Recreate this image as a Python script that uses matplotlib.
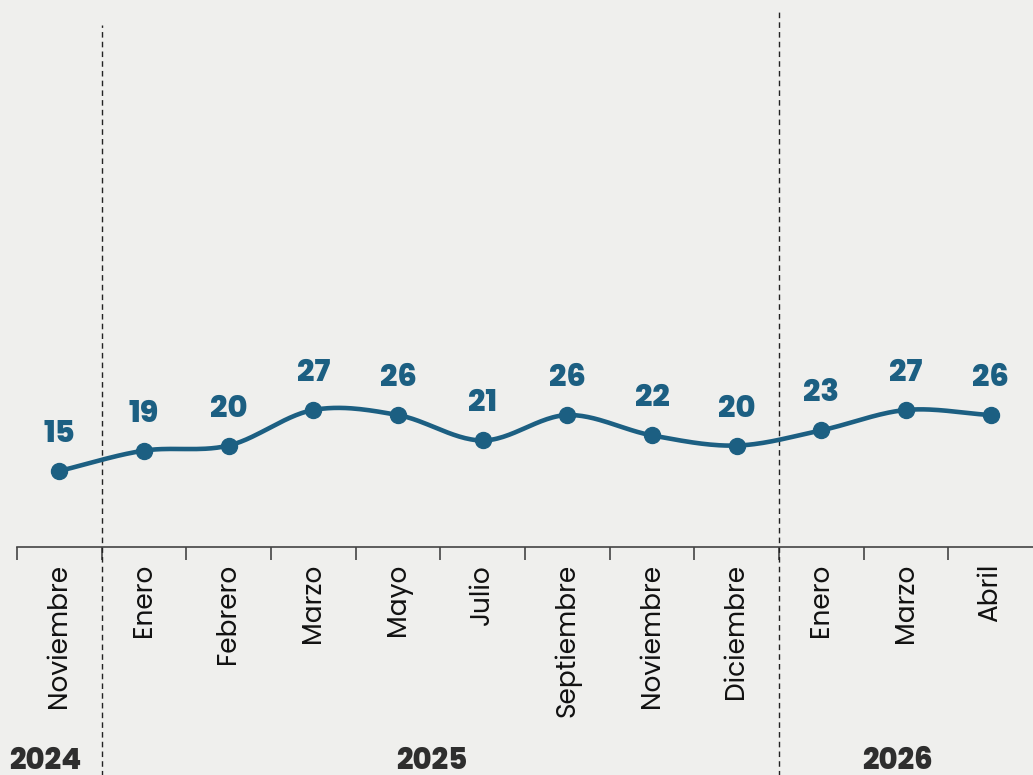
import numpy as np
import matplotlib
matplotlib.use("Agg")
import matplotlib.pyplot as plt
import matplotlib.transforms as mtransforms

months = ['Noviembre', 'Enero', 'Febrero', 'Marzo', 'Mayo', 'Julio',
          'Septiembre', 'Noviembre', 'Diciembre', 'Enero', 'Marzo', 'Abril']
values = [15, 19, 20, 27, 26, 21, 26, 22, 20, 23, 27, 26]
years = ['2024', '2025', '2026']

bg = '#efefed'
blue = '#1c5f82'
dark = '#2e2e2e'

plt.rcParams['font.family'] = ['Poppins', 'Open Sans', 'DejaVu Sans']

fig = plt.figure(figsize=(10.33, 7.75), dpi=100, facecolor=bg)
ax = fig.add_axes([0.0165, 0.294, 0.9835, 0.706])
ax.set_facecolor(bg)

x = np.arange(len(values))
y = np.array(values, dtype=float)

# smooth curve (catmull-rom) through the points
px = np.concatenate([[x[0] - 1], x, [x[-1] + 1]])
py = np.concatenate([[2 * y[0] - y[1]], y, [2 * y[-1] - y[-2]]])
cx, cy = [], []
t = np.linspace(0, 1, 30)
for i in range(1, len(px) - 2):
    p0, p1, p2, p3 = py[i - 1], py[i], py[i + 1], py[i + 2]
    seg = 0.5 * ((2 * p1) + (-p0 + p2) * t + (2 * p0 - 5 * p1 + 4 * p2 - p3) * t ** 2
                 + (-p0 + 3 * p1 - 3 * p2 + p3) * t ** 3)
    cx.extend(px[i] + t)
    cy.extend(seg)
ax.plot(cx, cy, color=blue, lw=3.3, solid_capstyle='round', zorder=3)
ax.plot(x, y, 'o', color=blue, ms=11.5, zorder=4)

for xi, yi in zip(x, values):
    ax.annotate(str(yi), (xi, yi), xytext=(0, 29), textcoords='offset pixels',
                ha='center', va='baseline', fontsize=22, fontweight='heavy',
                color=blue)

ax.set_xlim(-0.5, 11.5)
ax.set_ylim(0, 107.7)

for s in ['top', 'right', 'left']:
    ax.spines[s].set_visible(False)
ax.spines['bottom'].set_color('#444444')
ax.spines['bottom'].set_linewidth(1.2)
ax.set_yticks([])

ax.set_xticks(x)
ax.set_xticklabels(months, rotation=90, va='top', ha='center',
                   fontsize=19, color='#111111')
ax.tick_params(axis='x', which='major', length=0, pad=12)
ax.set_xticks(np.arange(-0.5, 11.5, 1), minor=True)
ax.tick_params(axis='x', which='minor', length=9, width=1.2, color='#444444')

for xv, top in [(0.5, 0.955), (8.5, 0.978)]:
    ax.axvline(xv, ymin=-0.42, ymax=top, color='#222222', lw=1,
               ls=(0, (4, 3)), clip_on=False)

trans = mtransforms.blended_transform_factory(ax.transData, fig.transFigure)
ax.text(-0.59, 0.008, years[0], transform=trans, ha='left', va='baseline',
        fontsize=21, fontweight='heavy', color=dark)
ax.text(4.4, 0.008, years[1], transform=trans, ha='center', va='baseline',
        fontsize=21, fontweight='heavy', color=dark)
ax.text(9.9, 0.008, years[2], transform=trans, ha='center', va='baseline',
        fontsize=21, fontweight='heavy', color=dark)

fig.savefig('out.png', dpi=100, facecolor=bg)
